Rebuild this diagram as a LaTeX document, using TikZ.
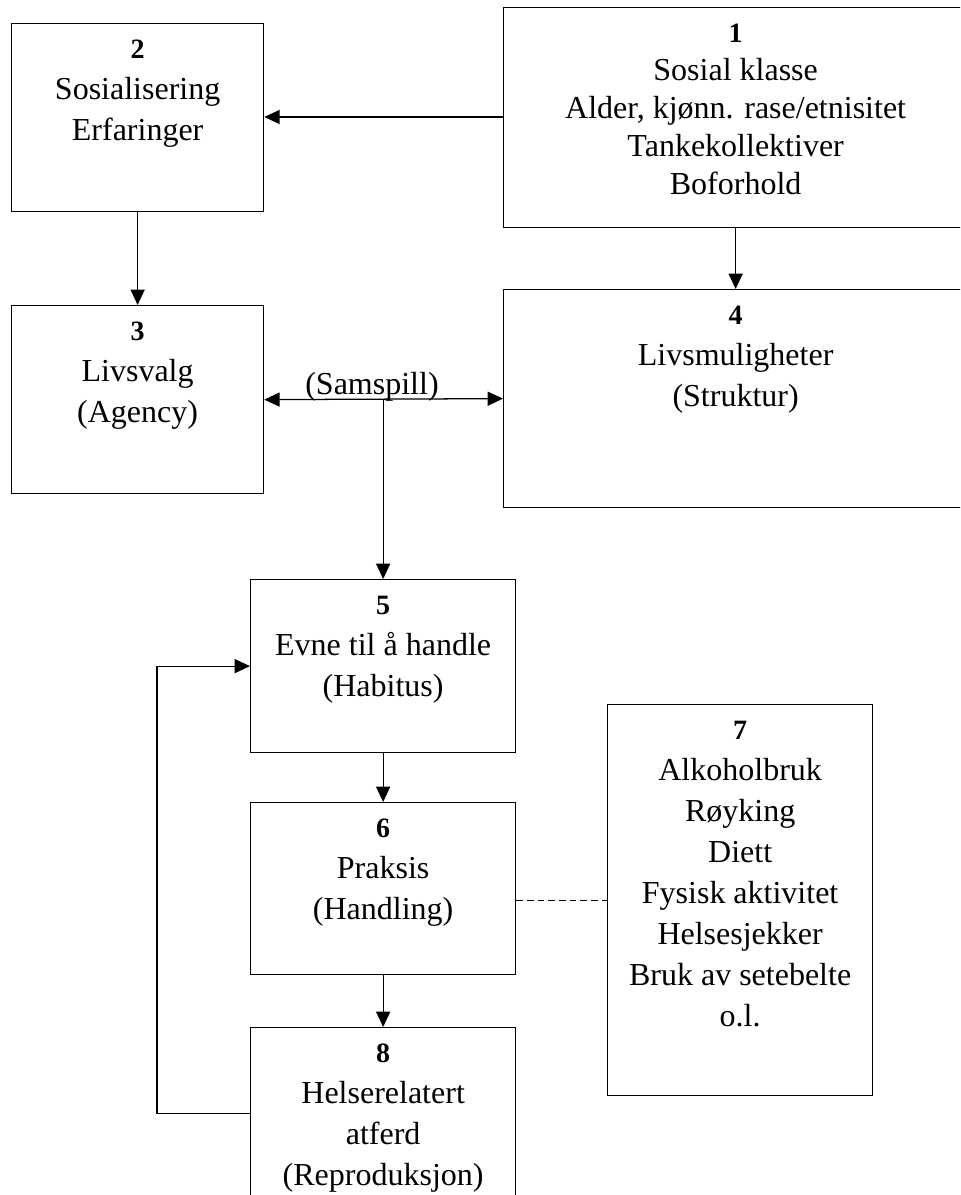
\documentclass[tikz,border=0pt]{standalone}
\usepackage{fontspec}
\setmainfont{Liberation Serif}
\usetikzlibrary{positioning,arrows.meta}

\newcommand{\boksnr}[1]{{\fontsize{21}{21}\selectfont\bfseries #1}}

\begin{document}
\begin{tikzpicture}[x=0.75pt, y=-0.75pt,
    every node/.style = {font=\fontsize{24}{30.75}\selectfont},
    boks/.style = {draw, line width=0.95pt, anchor=north west, inner sep=0},
    tekst/.style = {align=center, inner sep=0},
    pil/.style = {-{Triangle[length=11.5pt,width=10.5pt]}, line width=0.95pt}]
  \useasboundingbox (0,0) rectangle (960,1195);
  \clip (0,0) rectangle (960,1195);

  % boksene
  \node[boks, minimum width=348pt, minimum height=165pt] (b1) at (503,7) {};
  \node[boks, minimum width=189pt, minimum height=141pt] (b2) at (11,23) {};
  \node[boks, minimum width=189pt, minimum height=141pt] (b3) at (11,305) {};
  \node[boks, minimum width=348pt, minimum height=163.5pt] (b4) at (503,289) {};
  \node[boks, minimum width=198.75pt, minimum height=129.75pt] (b5) at (250,579) {};
  \node[boks, minimum width=198.75pt, minimum height=129pt] (b6) at (250,802) {};
  \node[boks, minimum width=198.75pt, minimum height=293.25pt] (b7) at (607,704) {};
  \node[boks, minimum width=198.75pt, minimum height=129pt] (b8) at (250,1027) {};

  % tekstene
  \node[tekst, font=\fontsize{24}{28.5}\selectfont, below=12.5pt of b1.north] (t1)
    {\boksnr{1}\\Sosial klasse\\Alder, kjønn. rase/etnisitet\\Tankekollektiver\\Boforhold};
  \node[tekst, below=12.5pt of b2.north] (t2) {\boksnr{2}\\Sosialisering\\Erfaringer};
  \node[tekst, below=12.5pt of b3.north] (t3) {\boksnr{3}\\Livsvalg\\(Agency)};
  \node[tekst, below=12.5pt of b4.north] (t4) {\boksnr{4}\\Livsmuligheter\\(Struktur)};
  \node[tekst, below=12.5pt of b5.north] (t5) {\boksnr{5}\\Evne til å handle\\(Habitus)};
  \node[tekst, below=12.5pt of b6.north] (t6) {\boksnr{6}\\Praksis\\(Handling)};
  \node[tekst, below=12.5pt of b7.north] (t7)
    {\boksnr{7}\\Alkoholbruk\\Røyking\\Diett\\Fysisk aktivitet\\Helsesjekker\\Bruk av setebelte\\o.l.};
  \node[tekst, below=12.5pt of b8.north] (t8) {\boksnr{8}\\Helserelatert\\atferd\\(Reproduksjon)};
  \node[anchor=base, inner sep=0] (samspill) at (372,394) {(Samspill)};

  % pilene
  \draw[pil] (b1.west |- 0,117) -- (b2.east |- 0,117);
  \draw[pil] (b2.south) -- (b3.north);
  \draw[pil] (b1.south) -- (b4.north);
  \draw[{Triangle[length=11.5pt,width=10.5pt]}-{Triangle[length=11.5pt,width=10.5pt]}, line width=0.95pt]
    (b3.east) -- (b4.west);
  \draw[pil] (b5.north |- b3.east) -- (b5.north);
  \draw[pil] (b5.south) -- (b6.north);
  \draw[pil] (b6.south) -- (b8.north);
  \draw[pil] (b8.west) -- ++(-93,0) |- (b5.west);
  \draw[line width=0.95pt, dash pattern=on 5pt off 3pt] (b7.west -| b6.east) -- (b7.west);
\end{tikzpicture}
\end{document}
